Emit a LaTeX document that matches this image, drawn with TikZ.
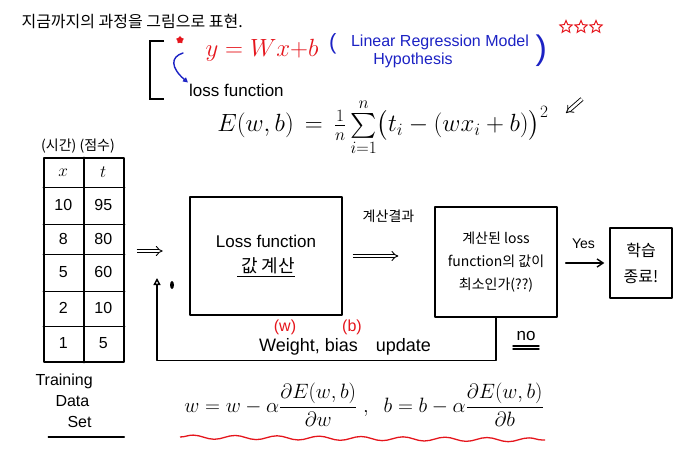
\documentclass[tikz,border=0pt]{standalone}
\usepackage{amsmath}
\usepackage{fontspec}
\setmainfont{Liberation Sans}
\newfontfamily\krfont{Noto Sans CJK KR}
\definecolor{penred}{HTML}{E5151C}
\definecolor{penblue}{HTML}{1C22C4}
\usetikzlibrary{arrows.meta,positioning,shapes.geometric,decorations.pathmorphing,calc}

\newcommand{\fs}[1]{\fontsize{#1}{#1}\selectfont}

\begin{document}
\begin{tikzpicture}[x=1pt, y=-1pt,
  pen/.style={line width=1.4pt, line cap=round, line join=round},
  box/.style={draw, pen, align=center, inner sep=4pt},
  cell/.style={font=\fs{16}, inner sep=1pt},
  txt/.style={font=\fs{14}, inner sep=1pt, align=center},
  dbl/.style={double, double distance=2.6pt, line width=0.9pt, -{Implies}},
  arr/.style={pen, -{Straight Barb[length=6pt, width=8pt]}},
  fbarr/.style={pen, -{Triangle[open, length=7pt, width=7pt]}},
  starmark/.style={star, star points=5, star point ratio=2.2, draw=penred, line width=1pt, minimum size=13pt, inner sep=0pt}
]
  \useasboundingbox (0,0) rectangle (680,449);

  % heading
  \node[anchor=west, font=\krfont\fs{16}] (title) at (18,22) {지금까지의 과정을 그림으로 표현.};
  \draw[line width=1.2pt] (164,41) -- (150,41) -- (150,99) -- (164,99);
  \node[star, star points=5, fill=penred, minimum size=8pt, inner sep=0pt] (redstar) at (180,40) {};
  \node[penred, font=\fs{24}] (hyp) at (262,50) {$y = Wx{+}b$};
  \node[penblue, txt, font=\fs{16}, align=center] (lrm) at (440,51) {Linear Regression Model\\[2pt]\hspace{-54pt}Hypothesis};
  \node[penblue, font=\fs{22}, left=10pt of lrm, yshift=7pt] (lpar) {(};
  \node[penblue, font=\fs{34}, right=2pt of lrm] (rpar) {)};
  \foreach \sx [count=\k] in {566,581,596}
    \node[starmark] (st\k) at (\sx,27) {};
  \node[txt, font=\fs{17}, anchor=west] (lossfn) at (188,90) {loss function};
  \node[font=\fs{24}] (efun) at (383,127) {$E(w,b) \,=\, \frac{1}{n}\sum\limits_{i=1}^{n}\bigl(t_i-(wx_i+b)\bigr)^2$};
  \draw[penblue, pen, -{Triangle[open, length=5pt, width=5pt]}] (183,53) .. controls (170,57) and (171,68) .. (lossfn.north west);
  \draw[dbl] (582,99) -- (566,113);

  % training data
  \node[draw, pen, minimum width=80pt, minimum height=204pt] (tbl) at (84,260) {};
  \draw[pen] (tbl.north) -- (tbl.south);
  \foreach \dy in {30,67,97,134,169}
    \draw[pen] ([yshift=-\dy pt]tbl.north west) -- ([yshift=-\dy pt]tbl.north east);
  \foreach \xv/\tv/\dy [count=\i] in {$x$/$t$/15, 10/95/48, 8/80/82, 5/60/115, 2/10/151, 1/5/186} {
    \node[cell] (x\i) at ([xshift=20pt, yshift=-\dy pt]tbl.north west) {\xv};
    \node[cell] (t\i) at ([xshift=60pt, yshift=-\dy pt]tbl.north west) {\tv};
  }
  \node[font=\krfont\fs{14}, above=1pt of tbl, xshift=-6pt] (head) {(시간) (점수)};
  \node[txt, font=\fontsize{16}{21}\selectfont, align=left, below=10pt of tbl.south west, anchor=north west, xshift=-9pt] (tds) {Training\\\hspace{20pt}Data\\\hspace{32pt}Set};
  \draw[pen] ([yshift=-8pt]tds.south west) ++(14pt,0) -- ++(76pt,0);

  % flow
  \node[box, minimum width=152pt, minimum height=118pt, font=\fs{17}] (calc) at (266,256) {Loss function\\[8pt]\underline{\krfont\fs{18} 값 계산}};
  \node[box, minimum width=122pt, minimum height=110pt, font=\krfont\fontsize{14}{23}\selectfont] (check) at (496,262) {계산된 loss\\function의 값이\\최소인가(??)};
  \node[box, minimum width=62pt, minimum height=70pt, font=\krfont\fontsize{16}{26}\selectfont] (done) at (641,263) {학습\\종료!};

  \draw[dbl, shorten <=10pt, shorten >=36pt] (calc.east) -- (calc.east -| check.west)
    node[midway, above=30pt, font=\krfont\fs{14}] (res) {계산결과};
  \draw[arr, shorten <=8pt, shorten >=5pt] (check.east |- done.west) -- (done.west)
    node[midway, above=10pt, font=\fs{14}] (yes) {Yes};
  \draw[dbl] ([xshift=12pt]tbl.east |- 0,251) -- ++(26pt,0);

  \coordinate (fbtip) at (157,278);
  \draw[fbarr] (check.south) -- ++(0,43) -| (fbtip);
  \fill (172,285) ellipse (2pt and 4pt);
  \node[font=\fs{17}] (no) at (526,336) {no};
  \draw[pen] ([yshift=-2pt]no.south west) -- ([yshift=-2pt]no.south east);
  \draw[pen] ([yshift=-5pt]no.south west) -- ([yshift=-5pt]no.south east);
  \node[font=\fs{18}] (upd) at (345,347) {Weight, bias\quad update};
  \node[penred, font=\fs{16}] (wmark) at (285,327) {(w)};
  \node[penred, font=\fs{16}] (bmark) at (352,327) {(b)};

  % update rule
  \node[font=\fs{21}] (rule) at (364,405) {$w=w-\alpha\dfrac{\partial E(w,b)}{\partial w}\;,\;\; b=b-\alpha\dfrac{\partial E(w,b)}{\partial b}$};
  \draw[penred, line width=1.3pt, decorate, decoration={snake, amplitude=2pt, segment length=42pt}] (180,437) -- (545,440);
\end{tikzpicture}
\end{document}
